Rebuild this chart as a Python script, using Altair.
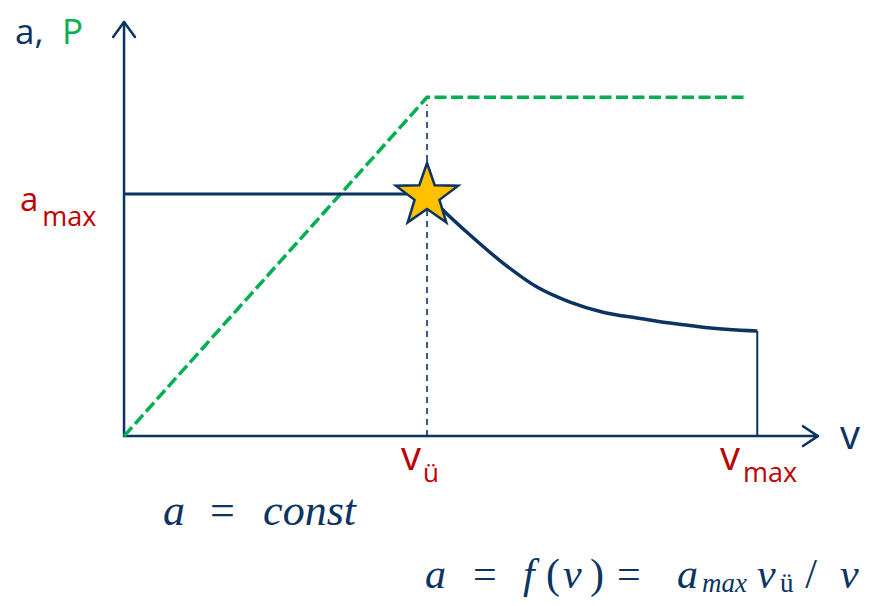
import altair as alt
import pandas as pd

NAVY = "#0b3462"
GREEN = "#00b050"
RED = "#c00000"
GOLD = "#ffc000"

# ---- data (v in units of v_ü, a / P in units of a_max) ----
v_u = 1.0
v_max = 2.09
P_max = 1.40

const_v = [0.0, 1.0]
const_a = [1.0, 1.0]

curve_v = [1.0, 1.043, 1.142, 1.251, 1.363, 1.472, 1.581, 1.693, 1.802, 1.911, 2.09]
curve_a = [1.0, 0.946, 0.831, 0.715, 0.616, 0.554, 0.512, 0.488, 0.467, 0.450, 0.434]

power_v = [0.0, 1.0, 2.05]
power_p = [0.0, 1.40, 1.40]

vu_line_v = [1.0, 1.0]
vu_line_a = [0.0, 1.37]

vmax_line_v = [2.09, 2.09]
vmax_line_a = [0.0, 0.434]

# axes (with open arrow heads)
axis_id = ["x", "x", "y", "y", "xh", "xh", "xh", "yh", "yh", "yh"]
axis_v = [0.0, 2.29, 0.0, 0.0, 2.241, 2.29, 2.241, -0.036, 0.0, 0.036]
axis_a = [0.0, 0.0, 0.0, 1.711, 0.041, 0.0, -0.041, 1.649, 1.711, 1.649]
axis_ord = [0, 1, 0, 1, 0, 1, 2, 0, 1, 2]

star_v = [1.0]
star_a = [0.993]
STAR_PATH = ("M0,-1 L0.235,-0.324 L0.951,-0.309 L0.380,0.124 L0.588,0.809 "
             "L0,0.4 L-0.588,0.809 L-0.380,0.124 L-0.951,-0.309 L-0.235,-0.324 Z")

# labels (sans)
lab_text = ["a,", "P", "a", "max", "v", "ü", "v", "max", "v"]
lab_v = [-0.36, -0.205, -0.343, -0.270, 0.914, 0.987, 1.967, 2.043, 2.363]
lab_a = [1.620, 1.620, 0.930, 0.868, -0.140, -0.190, -0.140, -0.190, -0.054]
lab_size = [35, 35, 33, 27, 40, 26, 40, 27, 40]
lab_color = [NAVY, GREEN, RED, RED, RED, RED, RED, RED, NAVY]

# formulas (serif)
f_text = ["a", "=", "const",
          "a", "=", "f", "(", "v", ")", "=", "a", "max", "v", "ü", "/", "v"]
f_v = [0.129, 0.284, 0.459,
       0.993, 1.152, 1.317, 1.393, 1.449, 1.538, 1.627, 1.825, 1.908, 2.089, 2.165, 2.248, 2.363]
f_a = [-0.368, -0.368, -0.368,
       -0.628, -0.628, -0.628, -0.628, -0.628, -0.628, -0.628, -0.628, -0.645, -0.628, -0.645, -0.628, -0.628]
f_size = [44, 44, 44,
          42, 42, 42, 42, 42, 42, 42, 42, 27, 42, 27, 42, 42]
f_style = ["italic", "normal", "italic",
           "italic", "normal", "italic", "normal", "italic", "normal", "normal",
           "italic", "italic", "italic", "normal", "normal", "italic"]

xs = alt.Scale(domain=[-0.383, 2.439], nice=False, zero=False)
ys = alt.Scale(domain=[-0.669, 1.769], nice=False, zero=False)


def X():
    return alt.X("v:Q", scale=xs, axis=None)


def Y():
    return alt.Y("a:Q", scale=ys, axis=None)


def line_df(v, a):
    return pd.DataFrame({"v": v, "a": a, "o": list(range(len(v)))})


axes_df = pd.DataFrame({"v": axis_v, "a": axis_a, "id": axis_id, "o": axis_ord})
axes = alt.Chart(axes_df).mark_line(color=NAVY, strokeWidth=2.5, strokeCap="round", strokeJoin="round").encode(
    x=X(), y=Y(), detail="id:N", order="o:Q"
)

power = alt.Chart(line_df(power_v, power_p)).mark_line(
    color=GREEN, strokeWidth=3.5, strokeDash=[12, 4.5]
).encode(x=X(), y=Y(), order="o:Q")

const_line = alt.Chart(line_df(const_v, const_a)).mark_line(color=NAVY, strokeWidth=3).encode(
    x=X(), y=Y(), order="o:Q"
)

curve = alt.Chart(line_df(curve_v, curve_a)).mark_line(
    color=NAVY, strokeWidth=3.5, interpolate="monotone"
).encode(x=X(), y=Y(), order="o:Q")

vu_line = alt.Chart(line_df(vu_line_v, vu_line_a)).mark_line(
    color=NAVY, strokeWidth=1.6, strokeDash=[6, 5]
).encode(x=X(), y=Y(), order="o:Q")

vmax_line = alt.Chart(line_df(vmax_line_v, vmax_line_a)).mark_line(color=NAVY, strokeWidth=2).encode(
    x=X(), y=Y(), order="o:Q"
)

star = alt.Chart(pd.DataFrame({"v": star_v, "a": star_a})).mark_point(
    shape=STAR_PATH, size=4300, filled=True, fill=GOLD, stroke=NAVY, strokeWidth=2.5, opacity=1
).encode(x=X(), y=Y())

labels_df = pd.DataFrame({"t": lab_text, "v": lab_v, "a": lab_a, "s": lab_size, "c": lab_color})
labels = alt.Chart(labels_df).mark_text(
    font="Open Sans", align="left", baseline="alphabetic"
).encode(
    x=X(), y=Y(), text="t:N",
    size=alt.Size("s:Q", scale=None, legend=None),
    color=alt.Color("c:N", scale=None, legend=None),
)

f_df = pd.DataFrame({"t": f_text, "v": f_v, "a": f_a, "s": f_size, "st": f_style})
f_it = alt.Chart(f_df[f_df.st == "italic"]).mark_text(
    font="Liberation Serif", fontStyle="italic", align="left", baseline="alphabetic", color=NAVY
).encode(x=X(), y=Y(), text="t:N", size=alt.Size("s:Q", scale=None, legend=None))
f_up = alt.Chart(f_df[f_df.st == "normal"]).mark_text(
    font="Liberation Serif", align="left", baseline="alphabetic", color=NAVY
).encode(x=X(), y=Y(), text="t:N", size=alt.Size("s:Q", scale=None, legend=None))

chart = alt.layer(
    axes, power, const_line, curve, vu_line, vmax_line, star, labels, f_it, f_up
).properties(
    width=855, height=590, autosize=alt.AutoSizeParams(type="none"), padding=0
).configure_view(strokeWidth=0)

chart.save("out.html", embed_options={"renderer": "svg", "actions": False})
